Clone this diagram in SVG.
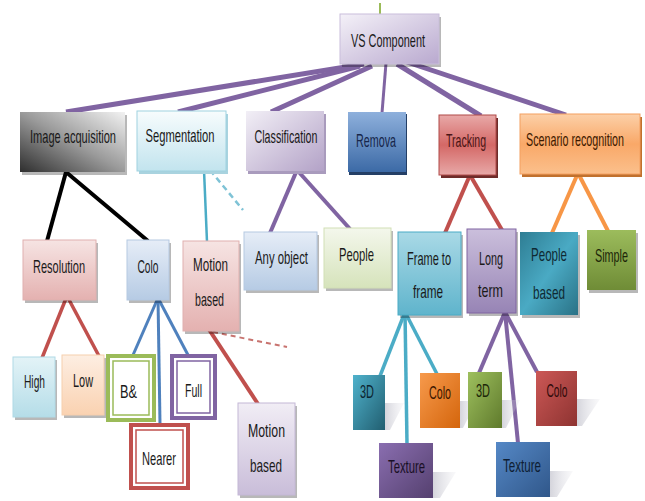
<svg xmlns="http://www.w3.org/2000/svg" width="645" height="501" viewBox="0 0 645 501">
<defs>
<linearGradient id="gVs" x1="0" y1="0" x2="1" y2="1"><stop offset="0" stop-color="#f4f1f8"/><stop offset="1" stop-color="#b9a9cf"/></linearGradient>
<linearGradient id="gGray" x1="0" y1="1" x2="1" y2="0"><stop offset="0" stop-color="#2e2e2e"/><stop offset="0.5" stop-color="#9a9a9a"/><stop offset="1" stop-color="#f2f2f2"/></linearGradient>
<linearGradient id="gCyanL" x1="0" y1="0" x2="0" y2="1"><stop offset="0" stop-color="#f7fcfd"/><stop offset="1" stop-color="#c2e4ee"/></linearGradient>
<linearGradient id="gLav" x1="0" y1="0" x2="1" y2="1"><stop offset="0" stop-color="#f2eff6"/><stop offset="1" stop-color="#b3a2c7"/></linearGradient>
<linearGradient id="gBlue" x1="0" y1="0" x2="0" y2="1"><stop offset="0" stop-color="#8eb0dc"/><stop offset="1" stop-color="#3c6aa6"/></linearGradient>
<linearGradient id="gRed" x1="0" y1="0" x2="0" y2="1"><stop offset="0" stop-color="#e8a9a8"/><stop offset="0.5" stop-color="#d46866"/><stop offset="1" stop-color="#e8a9a8"/></linearGradient>
<linearGradient id="gOrange" x1="0" y1="0" x2="0" y2="1"><stop offset="0" stop-color="#fcd0a8"/><stop offset="0.5" stop-color="#f9a868"/><stop offset="1" stop-color="#fbc08c"/></linearGradient>
<linearGradient id="gPink" x1="0" y1="0" x2="0" y2="1"><stop offset="0" stop-color="#f6e4e3"/><stop offset="1" stop-color="#e4b1b0"/></linearGradient>
<linearGradient id="gLBlue" x1="0" y1="0" x2="0" y2="1"><stop offset="0" stop-color="#e6edf7"/><stop offset="1" stop-color="#b6cbe4"/></linearGradient>
<linearGradient id="gLGreen" x1="0" y1="0" x2="0" y2="1"><stop offset="0" stop-color="#f4f7ec"/><stop offset="1" stop-color="#d6e3bb"/></linearGradient>
<linearGradient id="gCyan" x1="0" y1="0" x2="0" y2="1"><stop offset="0" stop-color="#a9d9e6"/><stop offset="1" stop-color="#5fb4cc"/></linearGradient>
<linearGradient id="gPurpleL" x1="0" y1="0" x2="0" y2="1"><stop offset="0" stop-color="#cbbfdc"/><stop offset="1" stop-color="#9784b5"/></linearGradient>
<linearGradient id="gTeal" x1="0" y1="0" x2="1" y2="1"><stop offset="0" stop-color="#2e7d93"/><stop offset="0.5" stop-color="#4aaac4"/><stop offset="1" stop-color="#2a7286"/></linearGradient>
<linearGradient id="gOlive" x1="0" y1="0" x2="0" y2="1"><stop offset="0" stop-color="#9cbc5c"/><stop offset="1" stop-color="#6f8c36"/></linearGradient>
<linearGradient id="gLCyan" x1="0" y1="0" x2="0" y2="1"><stop offset="0" stop-color="#e3f3f7"/><stop offset="1" stop-color="#b5dde8"/></linearGradient>
<linearGradient id="gPeach" x1="0" y1="0" x2="0" y2="1"><stop offset="0" stop-color="#fdeee2"/><stop offset="1" stop-color="#fad2b1"/></linearGradient>
<linearGradient id="gLav2" x1="0" y1="0" x2="0" y2="1"><stop offset="0" stop-color="#f1edf5"/><stop offset="1" stop-color="#c9bdd9"/></linearGradient>
<linearGradient id="gTeal2" x1="0" y1="0" x2="1" y2="1"><stop offset="0" stop-color="#4fb2cc"/><stop offset="1" stop-color="#215e70"/></linearGradient>
<linearGradient id="gOrg2" x1="0" y1="0" x2="1" y2="1"><stop offset="0" stop-color="#f79a4c"/><stop offset="1" stop-color="#d4650c"/></linearGradient>
<linearGradient id="gOlv2" x1="0" y1="0" x2="1" y2="1"><stop offset="0" stop-color="#9ec05e"/><stop offset="1" stop-color="#5f7a2c"/></linearGradient>
<linearGradient id="gRed2" x1="0" y1="0" x2="1" y2="1"><stop offset="0" stop-color="#cc5856"/><stop offset="1" stop-color="#8e3331"/></linearGradient>
<linearGradient id="gPur2" x1="0" y1="0" x2="1" y2="1"><stop offset="0" stop-color="#8a6eb0"/><stop offset="1" stop-color="#55406f"/></linearGradient>
<linearGradient id="gBlu2" x1="0" y1="0" x2="1" y2="1"><stop offset="0" stop-color="#5588c6"/><stop offset="1" stop-color="#30578a"/></linearGradient>
<linearGradient id="gShadow" x1="0" y1="0" x2="1" y2="0"><stop offset="0" stop-color="#b8b8c4" stop-opacity="0.6"/><stop offset="1" stop-color="#d8d8e0" stop-opacity="0.15"/></linearGradient>
</defs>
<style>
text{font-family:"Liberation Sans",Arial,sans-serif;font-size:19px;fill:#1a1a1a;text-anchor:middle}
.sh{fill:#000;opacity:0.28}
.ln{fill:none;stroke-linecap:butt}
.pur{stroke:#8064a2;stroke-width:5}
.pur4{stroke:#8064a2;stroke-width:4}
.blk{stroke:#000;stroke-width:4}
.red{stroke:#c0504d;stroke-width:3.5}
.blu{stroke:#4f81bd;stroke-width:3}
.tea{stroke:#4bacc6;stroke-width:3.5}
.org{stroke:#f79646;stroke-width:4}
.dashT{stroke:#7fc3d6;stroke-width:2.5;stroke-dasharray:6 4}
.dashR{stroke:#c8736f;stroke-width:2;stroke-dasharray:5 4}
.rs{fill:url(#gShadow)}
.dbl{fill:#fff;stroke-width:4}
.dbl2{fill:none;stroke-width:1.5}
</style>
<g id="connectors">
<line x1="380" y1="3" x2="380" y2="14" stroke="#9bbb59" stroke-width="2"/>
<line class="ln pur" x1="364" y1="64" x2="66" y2="112"/>
<line class="ln pur" x1="360" y1="66" x2="178" y2="112"/>
<line class="ln pur" x1="372" y1="66" x2="271" y2="112"/>
<line class="ln" stroke="#8064a2" stroke-width="3" x1="386" y1="63" x2="382" y2="113"/>
<line class="ln pur" x1="397" y1="64" x2="481" y2="116"/>
<line class="ln pur" x1="407" y1="62" x2="566" y2="115"/>
<line class="ln blk" x1="66" y1="172" x2="47" y2="241"/>
<line class="ln blk" x1="66" y1="172" x2="148" y2="241"/>
<line class="ln red" x1="67" y1="296" x2="42" y2="358"/>
<line class="ln red" x1="67" y1="296" x2="99" y2="356"/>
<line class="ln blu" x1="158" y1="298" x2="133" y2="355"/>
<line class="ln blu" x1="158" y1="298" x2="188" y2="355"/>
<line class="ln blu" x1="158" y1="298" x2="160" y2="424"/>
<line class="ln" stroke="#4bacc6" stroke-width="2.5" x1="204" y1="170" x2="207" y2="242"/>
<line class="ln dashT" x1="210" y1="170" x2="243" y2="210"/>
<line class="ln" stroke="#c0504d" stroke-width="4" x1="208" y1="328" x2="258" y2="404"/>
<line class="ln dashR" x1="213" y1="332" x2="287" y2="347"/>
<line class="ln pur4" x1="297" y1="170" x2="270" y2="233"/>
<line class="ln pur4" x1="297" y1="170" x2="350" y2="229"/>
<line class="ln" stroke="#c0504d" stroke-width="4" x1="470" y1="175" x2="445" y2="233"/>
<line class="ln" stroke="#c0504d" stroke-width="4" x1="470" y1="175" x2="502" y2="230"/>
<line class="ln org" x1="578" y1="173" x2="552" y2="233"/>
<line class="ln org" x1="578" y1="173" x2="608" y2="231"/>
<line class="ln tea" x1="405" y1="312" x2="380" y2="376"/>
<line class="ln tea" x1="405" y1="312" x2="407" y2="444"/>
<line class="ln tea" x1="405" y1="312" x2="437" y2="374"/>
<line class="ln pur4" x1="505" y1="312" x2="479" y2="373"/>
<line class="ln pur4" x1="505" y1="312" x2="518" y2="443"/>
<line class="ln pur4" x1="505" y1="312" x2="537" y2="372"/>
</g>
<g id="vs"><rect class="sh" x="342" y="17" width="99" height="50"/><rect x="340" y="14" width="99" height="50" fill="url(#gVs)" stroke="#c9bedb" stroke-width="1"/><text x="388" y="47" textLength="74" lengthAdjust="spacingAndGlyphs">VS Component</text></g>
<g id="img"><rect class="sh" x="22" y="115" width="105" height="60"/><rect x="20" y="112" width="105" height="60" fill="url(#gGray)"/><text x="73" y="143" textLength="86" lengthAdjust="spacingAndGlyphs">Image acquisition</text></g>
<g id="seg"><rect x="139" y="114" width="89" height="60" fill="#a9d3df"/><rect x="137" y="111" width="89" height="60" fill="url(#gCyanL)" stroke="#9fd2e0" stroke-width="1"/><text x="180" y="142" textLength="69" lengthAdjust="spacingAndGlyphs">Segmentation</text></g>
<g id="cls"><rect x="248" y="114" width="78" height="60" fill="#a99bbd"/><rect x="246" y="111" width="78" height="60" fill="url(#gLav)"/><text x="286" y="143" textLength="63" lengthAdjust="spacingAndGlyphs">Classification</text></g>
<g id="rem"><rect x="349" y="114" width="58" height="61" fill="#243f66"/><rect x="348" y="112" width="58" height="60" fill="url(#gBlue)"/><text x="376" y="147" textLength="40" lengthAdjust="spacingAndGlyphs" style="fill:#17264a">Remova</text></g>
<g id="trk"><rect x="441" y="118" width="57" height="60" fill="#6e2c2a"/><rect x="439" y="115" width="57" height="60" fill="url(#gRed)" stroke="#b04a48" stroke-width="1"/><text x="466" y="147" textLength="40" lengthAdjust="spacingAndGlyphs" style="fill:#4a1515">Tracking</text></g>
<g id="scn"><rect x="522" y="117" width="120" height="60" fill="#c0712e"/><rect x="520" y="114" width="120" height="60" fill="url(#gOrange)" stroke="#f4a060" stroke-width="1"/><text x="575" y="146" textLength="98" lengthAdjust="spacingAndGlyphs" style="fill:#3d1a00">Scenario recognition</text></g>
<g id="res"><rect class="sh" x="25" y="243" width="73" height="60"/><rect x="23" y="240" width="73" height="60" fill="url(#gPink)" stroke="#e0b0af" stroke-width="1"/><text x="59" y="273" textLength="52" lengthAdjust="spacingAndGlyphs">Resolution</text></g>
<g id="colo1"><rect class="sh" x="129" y="243" width="42" height="60"/><rect x="127" y="240" width="42" height="60" fill="url(#gLBlue)" stroke="#b5c9e2" stroke-width="1"/><text x="148" y="273" textLength="21" lengthAdjust="spacingAndGlyphs">Colo</text></g>
<g id="mot1"><rect class="sh" x="185" y="244" width="56" height="90"/><rect x="183" y="241" width="56" height="90" fill="url(#gPink)" stroke="#e0b0af" stroke-width="1"/><text x="210.5" y="271" textLength="35" lengthAdjust="spacingAndGlyphs">Motion</text><text x="209.5" y="306" textLength="29" lengthAdjust="spacingAndGlyphs">based</text></g>
<g id="any"><rect class="sh" x="246" y="235" width="73" height="58"/><rect x="244" y="232" width="73" height="58" fill="url(#gLBlue)" stroke="#b5c9e2" stroke-width="1"/><text x="281.5" y="264" textLength="53" lengthAdjust="spacingAndGlyphs">Any object</text></g>
<g id="ppl"><rect class="sh" x="326" y="231" width="67" height="60"/><rect x="324" y="228" width="67" height="60" fill="url(#gLGreen)" stroke="#d2dfb6" stroke-width="1"/><text x="356.5" y="261" textLength="35" lengthAdjust="spacingAndGlyphs">People</text></g>
<g id="f2f"><rect class="sh" x="400" y="235" width="63" height="83"/><rect x="398" y="232" width="63" height="83" fill="url(#gCyan)" stroke="#4bacc6" stroke-width="1"/><text x="429" y="265" textLength="44" lengthAdjust="spacingAndGlyphs">Frame to</text><text x="428" y="298" textLength="30" lengthAdjust="spacingAndGlyphs">frame</text></g>
<g id="lt"><rect class="sh" x="469" y="232" width="49" height="84"/><rect x="467" y="229" width="49" height="84" fill="url(#gPurpleL)" stroke="#8064a2" stroke-width="1"/><text x="491" y="265" textLength="24" lengthAdjust="spacingAndGlyphs">Long</text><text x="490.5" y="297" textLength="25" lengthAdjust="spacingAndGlyphs">term</text></g>
<g id="pb"><rect class="sh" x="522" y="235" width="58" height="83"/><rect x="520" y="232" width="58" height="83" fill="url(#gTeal)"/><text x="549" y="261" textLength="36" lengthAdjust="spacingAndGlyphs" style="fill:#0f2a33">People</text><text x="549" y="299" textLength="32" lengthAdjust="spacingAndGlyphs" style="fill:#0f2a33">based</text></g>
<g id="smp"><rect class="sh" x="589" y="233" width="49" height="60"/><rect x="587" y="230" width="49" height="60" fill="url(#gOlive)"/><text x="611.5" y="262" textLength="33" lengthAdjust="spacingAndGlyphs" style="fill:#1c2608">Simple</text></g>
<g id="high"><rect class="sh" x="15" y="360" width="42" height="60"/><rect x="13" y="357" width="42" height="60" fill="url(#gLCyan)" stroke="#b0dae6" stroke-width="1"/><text x="34.5" y="388" textLength="21" lengthAdjust="spacingAndGlyphs">High</text></g>
<g id="low"><rect class="sh" x="64" y="358" width="42" height="60"/><rect x="62" y="355" width="42" height="60" fill="url(#gPeach)" stroke="#f6cfae" stroke-width="1"/><text x="83" y="387" textLength="20" lengthAdjust="spacingAndGlyphs">Low</text></g>
<g id="bw"><rect x="108" y="356" width="46" height="64" class="dbl" stroke="#9bbb59"/><rect x="113" y="361" width="36" height="54" class="dbl2" stroke="#9bbb59"/><text x="128.5" y="398" textLength="17" lengthAdjust="spacingAndGlyphs">B&amp;</text></g>
<g id="full"><rect x="172" y="356" width="43" height="62" class="dbl" stroke="#8064a2"/><rect x="177" y="361" width="33" height="52" class="dbl2" stroke="#8064a2"/><text x="193.5" y="397" textLength="17" lengthAdjust="spacingAndGlyphs">Full</text></g>
<g id="nearer"><rect x="131" y="425" width="57" height="63" class="dbl" stroke="#c0504d"/><rect x="136" y="430" width="47" height="53" class="dbl2" stroke="#c0504d"/><text x="159" y="465" textLength="34" lengthAdjust="spacingAndGlyphs">Nearer</text></g>
<g id="mot2"><rect class="sh" x="240" y="406" width="57" height="92"/><rect x="238" y="403" width="57" height="92" fill="url(#gLav2)" stroke="#c4b8d6" stroke-width="1"/><text x="266.5" y="437" textLength="37" lengthAdjust="spacingAndGlyphs">Motion</text><text x="266" y="472" textLength="32" lengthAdjust="spacingAndGlyphs">based</text></g>
<g id="d3a"><polygon class="rs" points="385,403 404,403 390,430 385,430"/><rect x="353" y="375" width="32" height="55" fill="url(#gTeal2)"/><text x="367" y="398" textLength="14" lengthAdjust="spacingAndGlyphs" style="fill:#0c2530">3D</text></g>
<g id="colo2"><polygon class="rs" points="460,401 477,401 463,428 460,428"/><rect x="420" y="373" width="40" height="55" fill="url(#gOrg2)"/><text x="440" y="399" textLength="22" lengthAdjust="spacingAndGlyphs" style="fill:#3a1500">Colo</text></g>
<g id="d3b"><polygon class="rs" points="502,400 520,400 506,428 502,428"/><rect x="468" y="372" width="34" height="56" fill="url(#gOlv2)"/><text x="483" y="397" textLength="14" lengthAdjust="spacingAndGlyphs" style="fill:#1c2608">3D</text></g>
<g id="colo3"><polygon class="rs" points="577,399 600,399 582,426 577,426"/><rect x="536" y="371" width="41" height="55" fill="url(#gRed2)"/><text x="557" y="397" textLength="21" lengthAdjust="spacingAndGlyphs" style="fill:#2e0a0a">Colo</text></g>
<g id="tex1"><polygon class="rs" points="433,472 456,472 440,498 433,498"/><rect x="379" y="443" width="54" height="55" fill="url(#gPur2)"/><text x="406.5" y="473" textLength="37" lengthAdjust="spacingAndGlyphs" style="fill:#1a1026">Texture</text></g>
<g id="tex2"><polygon class="rs" points="550,471 573,471 557,497 550,497"/><rect x="496" y="442" width="54" height="55" fill="url(#gBlu2)"/><text x="522" y="472" textLength="38" lengthAdjust="spacingAndGlyphs" style="fill:#0e1e33">Texture</text></g>
</svg>
